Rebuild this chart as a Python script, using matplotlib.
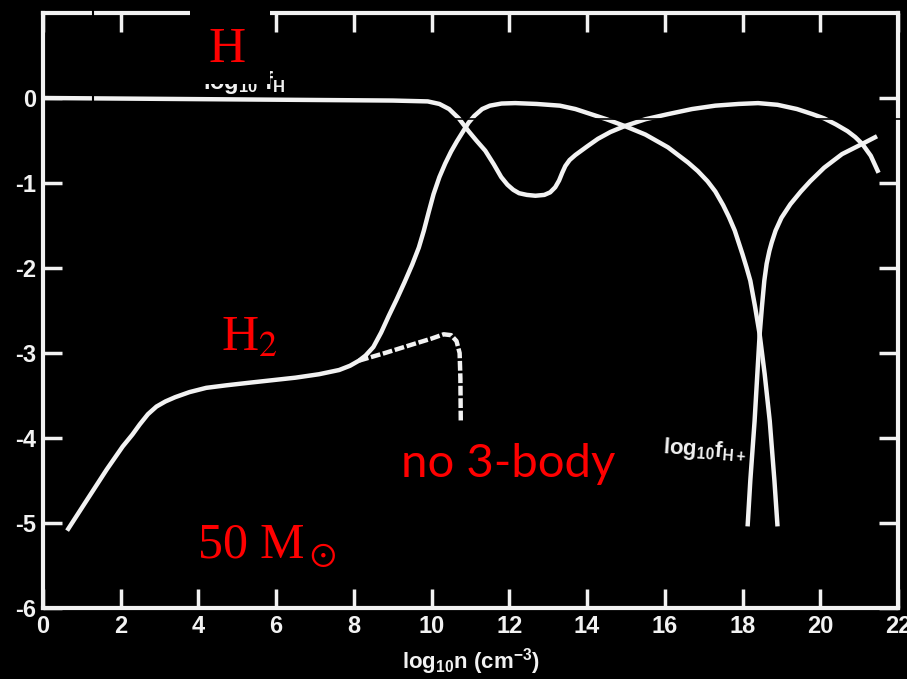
import matplotlib
matplotlib.use('Agg')
import matplotlib.pyplot as plt
from matplotlib.patches import Rectangle
from matplotlib.lines import Line2D

# ---------------- data ----------------
h_x = [0, 3, 6, 9, 9.9, 10.2, 10.45, 10.7, 10.95, 11.15, 11.38, 11.6, 11.79, 11.95, 12.1,
       12.25, 12.45, 12.67, 12.9, 13.05, 13.18, 13.28, 13.36, 13.44, 13.55, 13.7, 13.85,
       14.0, 14.28, 14.6, 14.97, 15.5, 16.08, 16.7, 17.3, 17.9, 18.4, 18.9, 19.4, 19.8, 20.1,
       20.4, 20.7, 20.9, 21.08, 21.3, 21.5]
h_y = [0, -0.01, -0.02, -0.03, -0.04, -0.07, -0.13, -0.24, -0.39, -0.5, -0.62, -0.78, -0.93,
       -1.02, -1.08, -1.12, -1.14, -1.15, -1.14, -1.11, -1.05, -0.97, -0.88, -0.8, -0.73,
       -0.67, -0.62, -0.57, -0.48, -0.4, -0.33, -0.25, -0.19, -0.13, -0.09, -0.07, -0.06,
       -0.08, -0.13, -0.19, -0.24, -0.31, -0.39, -0.46, -0.54, -0.68, -0.88]

h2_x = [0.62, 1.03, 1.64, 2.05, 2.3, 2.49, 2.7, 2.92, 3.15, 3.4, 3.77, 4.2, 4.72, 5.3, 5.9,
        6.5, 7.1, 7.62, 7.9, 8.13, 8.3, 8.5, 8.7, 8.9, 9.1, 9.3, 9.5, 9.67, 9.8, 9.92, 10.05,
        10.2, 10.35, 10.5, 10.65, 10.8, 10.95, 11.1, 11.3, 11.5, 11.8, 12.15, 12.7, 13.3, 13.7,
        14.1, 14.5, 14.97, 15.5, 16.08, 16.6, 16.85, 17.1, 17.3, 17.5, 17.65, 17.8, 17.9, 18.0,
        18.1, 18.2, 18.32, 18.44, 18.57, 18.7, 18.82, 18.9]
h2_y = [-5.09, -4.8, -4.37, -4.1, -3.96, -3.84, -3.72, -3.63, -3.57, -3.52, -3.46, -3.41,
        -3.38, -3.35, -3.32, -3.29, -3.25, -3.2, -3.15, -3.09, -3.03, -2.93, -2.76, -2.56,
        -2.37, -2.17, -1.96, -1.76, -1.56, -1.35, -1.13, -0.93, -0.77, -0.63, -0.51, -0.4,
        -0.29, -0.21, -0.13, -0.09, -0.065, -0.06, -0.07, -0.09, -0.13, -0.19, -0.25, -0.33,
        -0.43, -0.58, -0.76, -0.86, -0.98, -1.1, -1.26, -1.4, -1.56, -1.7, -1.84, -1.99,
        -2.15, -2.45, -2.78, -3.25, -3.8, -4.5, -5.04]

hp_x = [18.13, 18.2, 18.31, 18.44, 18.5, 18.56, 18.62, 18.69, 18.75, 18.85, 19.0, 19.23, 19.5,
        19.74, 20.1, 20.56, 21.08, 21.46]
hp_y = [-5.04, -4.5, -3.8, -2.78, -2.45, -2.15, -1.95, -1.8, -1.7, -1.56, -1.41, -1.25, -1.1,
        -0.98, -0.82, -0.66, -0.54, -0.45]

no3_x = [8.13, 8.8, 9.5, 10.0, 10.31, 10.5, 10.64, 10.72, 10.74, 10.75]
no3_y = [-3.09, -3.0, -2.9, -2.83, -2.78, -2.79, -2.86, -3.0, -3.3, -3.8]

xticks = [0, 2, 4, 6, 8, 10, 12, 14, 16, 18, 20, 22]
xticklabels = ['0', '2', '4', '6', '8', '10', '12', '14', '16', '18', '20', '22']
yticks = [0, -1, -2, -3, -4, -5, -6]
yticklabels = ['0', '-1', '-2', '-3', '-4', '-5', '-6']

# ---------------- style ----------------
WHITE = '#f2f2f2'
RED = '#ff0000'
plt.rcParams['mathtext.fontset'] = 'custom'
plt.rcParams['mathtext.rm'] = 'Liberation Sans:bold'
plt.rcParams['mathtext.it'] = 'Liberation Sans:bold'
plt.rcParams['mathtext.bf'] = 'Liberation Sans:bold'

W, H = 907, 679
fig = plt.figure(figsize=(W / 100, H / 100), dpi=100, facecolor='black')


def fx(px):
    return px / W


def fy(py):
    return 1 - py / H


ax = fig.add_axes([fx(43), fy(608), fx(898) - fx(43), fy(13) - fy(608)])
ax.set_facecolor('black')

lw = 3.2
ax.plot(h_x, h_y, color=WHITE, lw=lw, solid_joinstyle='round', solid_capstyle='butt')
ax.plot(h2_x, h2_y, color=WHITE, lw=lw, solid_joinstyle='round', solid_capstyle='butt')
ax.plot(hp_x, hp_y, color=WHITE, lw=lw, solid_joinstyle='round', solid_capstyle='butt')
ax.plot(no3_x, no3_y, color=WHITE, lw=lw, linestyle=(0, (2.2, 0.6)),
        dash_joinstyle='round', dash_capstyle='butt')

ax.set_xlim(0, 22)
ax.set_ylim(-6, 1)
ax.set_xticks(xticks, labels=xticklabels)
ax.set_yticks(yticks, labels=yticklabels)
ax.tick_params(which='both', direction='in', length=14, width=2.5, color=WHITE,
               labelcolor=WHITE, top=True, right=True, labelsize=17, pad=5)
for lab in ax.get_xticklabels() + ax.get_yticklabels():
    lab.set_fontfamily('Liberation Sans')
    lab.set_fontweight('bold')
for s in ax.spines.values():
    s.set_color(WHITE)
    s.set_linewidth(3)

ax.set_xlabel(r'log$_{10}$n (cm$^{-3}$)', color=WHITE, fontsize=16, fontweight='bold',
              fontfamily='Liberation Sans', labelpad=6)

# white in-figure labels
fig.text(fx(662), fy(453), r'log$_{10}$f$_{H+}$', color=WHITE, fontsize=16,
         fontweight='bold', fontfamily='Liberation Sans', ha='left', va='baseline',
         rotation=-4, rotation_mode='anchor', zorder=4)
fig.text(fx(285), fy(89), r'log$_{10}$ f$_{H}$', color=WHITE, fontsize=17,
         fontweight='bold', fontfamily='Liberation Sans', ha='right', va='baseline', zorder=4)

# black patches of the scan
fig.patches.append(Rectangle((fx(190), fy(84)), fx(270) - fx(190), fy(0) - fy(84),
                             transform=fig.transFigure, facecolor='black', edgecolor='none',
                             zorder=5))
fig.patches.append(Rectangle((fx(195), fy(372)), fx(302) - fx(195), fy(305) - fy(372),
                             transform=fig.transFigure, facecolor='black', edgecolor='none',
                             zorder=5))
fig.lines.append(Line2D([fx(93), fx(93)], [fy(0), fy(110)], transform=fig.transFigure,
                        color='black', lw=1.5, zorder=5))
fig.lines.append(Line2D([fx(453), fx(907)], [fy(118.5), fy(118.5)], transform=fig.transFigure,
                        color='black', lw=1.2, zorder=5))

# red annotations
fig.text(fx(209), fy(62), 'H', color=RED, fontsize=37, fontfamily='Liberation Serif',
         ha='left', va='baseline', zorder=6)
fig.text(fx(221), fy(350), r'H$_\mathrm{2}$', color=RED, fontsize=37,
         fontfamily='Liberation Serif', math_fontfamily='stix', ha='left', va='baseline', zorder=6)
fig.text(fx(197), fy(558), r'50 M$_\odot$', color=RED, fontsize=36,
         fontfamily='Liberation Serif', math_fontfamily='stix', ha='left', va='baseline', zorder=6)
fig.text(fx(401), fy(477), 'no 3-body', color=RED, fontsize=34, fontfamily='Lato',
         fontweight='normal', ha='left', va='baseline', zorder=6)

fig.savefig('out.png', dpi=100, facecolor='black')
